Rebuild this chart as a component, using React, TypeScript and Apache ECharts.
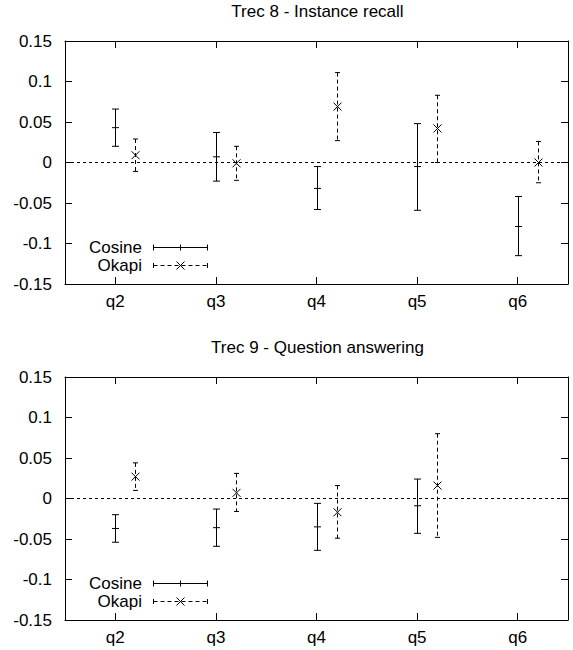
import React, { useEffect, useRef } from "react";
import * as echarts from "echarts";

// ---- data ----
const categories = ["q2", "q3", "q4", "q5", "q6"];
const yMin = -0.15;
const yMax = 0.15;
const yStep = 0.05;

const chartTitles = ["Trec 8 - Instance recall", "Trec 9 - Question answering"];
const seriesNames = ["Cosine", "Okapi"];

// Trec 8 - Instance recall
const trec8CosineLow = [0.02, -0.023, -0.058, -0.059, -0.115];
const trec8CosineMean = [0.043, 0.007, -0.032, -0.005, -0.079];
const trec8CosineHigh = [0.066, 0.037, -0.005, 0.048, -0.042];
const trec8OkapiLow = [-0.011, -0.022, 0.027, 0.0, -0.025];
const trec8OkapiMean = [0.009, -0.001, 0.069, 0.042, 0.0];
const trec8OkapiHigh = [0.029, 0.02, 0.111, 0.083, 0.026];

// Trec 9 - Question answering (no value for q6)
const trec9CosineLow = [-0.054, -0.059, -0.064, -0.043];
const trec9CosineMean = [-0.037, -0.036, -0.035, -0.009];
const trec9CosineHigh = [-0.02, -0.013, -0.006, 0.024];
const trec9OkapiLow = [0.01, -0.016, -0.049, -0.048];
const trec9OkapiMean = [0.027, 0.007, -0.017, 0.016];
const trec9OkapiHigh = [0.044, 0.031, 0.016, 0.08];

const FONT = "'Liberation Sans', Arial, Helvetica, sans-serif";
const FS = 17;
const BLACK = "#000";

function toData(low: number[], mid: number[], high: number[]) {
  return low.map((l, i) => [i, l, mid[i], high[i]]);
}

function seg(x1: number, y1: number, x2: number, y2: number, dash?: number[]) {
  return {
    type: "line",
    shape: { x1, y1, x2, y2 },
    style: { stroke: BLACK, lineWidth: 1, lineDash: dash || null, fill: null },
  };
}

function makeRender(kind: "cosine" | "okapi") {
  return (params: any, api: any) => {
    const cat = api.value(0);
    const lo = api.coord([cat, api.value(1)]);
    const mid = api.coord([cat, api.value(2)]);
    const hi = api.coord([cat, api.value(3)]);
    const band = api.size([1, 0])[0];
    const x = Math.round(lo[0] + (kind === "okapi" ? band * 0.2 : 0)) + 0.5;
    const children: any[] = [];
    if (kind === "cosine") {
      children.push(seg(x, lo[1], x, hi[1]));
      children.push(seg(x - 3.5, lo[1], x + 3.5, lo[1]));
      children.push(seg(x - 3.5, hi[1], x + 3.5, hi[1]));
      children.push(seg(x - 3.5, mid[1], x + 3.5, mid[1]));
    } else {
      children.push(seg(x, hi[1], x, lo[1], [4, 3]));
      children.push(seg(x - 2.5, lo[1], x + 2.5, lo[1]));
      children.push(seg(x - 2.5, hi[1], x + 2.5, hi[1]));
      children.push(seg(x - 4, mid[1] - 4, x + 4, mid[1] + 4));
      children.push(seg(x - 4, mid[1] + 4, x + 4, mid[1] - 4));
    }
    return { type: "group", children };
  };
}

const GRID_LEFT = 65;
const GRID_RIGHT = 5;
const GRID_H = 243;
const gridTops = [41, 377];

function legendElements(bottom: number) {
  const yC = bottom - 36.5;
  const yO = bottom - 18.5;
  const x1 = 153.5;
  const x2 = 207.5;
  const xm = 180.5;
  const textStyle = (t: string) => ({
    text: t,
    font: `${FS}px ${FONT}`,
    fill: BLACK,
    textAlign: "right",
    textVerticalAlign: "middle",
    lineHeight: 16,
  });
  return [
    { type: "text", x: 142, y: yC, style: textStyle(seriesNames[0]) },
    { type: "text", x: 142, y: yO, style: textStyle(seriesNames[1]) },
    { type: "line", shape: { x1, y1: yC, x2, y2: yC }, style: { stroke: BLACK, lineWidth: 1 } },
    { type: "line", shape: { x1, y1: yC - 3, x2: x1, y2: yC + 3 }, style: { stroke: BLACK, lineWidth: 1 } },
    { type: "line", shape: { x1: x2, y1: yC - 3, x2, y2: yC + 3 }, style: { stroke: BLACK, lineWidth: 1 } },
    { type: "line", shape: { x1: xm, y1: yC - 3, x2: xm, y2: yC + 3 }, style: { stroke: BLACK, lineWidth: 1 } },
    { type: "line", shape: { x1, y1: yO, x2, y2: yO }, style: { stroke: BLACK, lineWidth: 1, lineDash: [4, 3] } },
    { type: "line", shape: { x1, y1: yO - 2.5, x2: x1, y2: yO + 2.5 }, style: { stroke: BLACK, lineWidth: 1 } },
    { type: "line", shape: { x1: x2, y1: yO - 2.5, x2, y2: yO + 2.5 }, style: { stroke: BLACK, lineWidth: 1 } },
    { type: "line", shape: { x1: xm - 4, y1: yO - 4, x2: xm + 4, y2: yO + 4 }, style: { stroke: BLACK, lineWidth: 1 } },
    { type: "line", shape: { x1: xm - 4, y1: yO + 4, x2: xm + 4, y2: yO - 4 }, style: { stroke: BLACK, lineWidth: 1 } },
  ];
}

function buildOption() {
  const grid = gridTops.map((top) => ({
    left: GRID_LEFT,
    right: GRID_RIGHT,
    top,
    height: GRID_H,
    containLabel: false,
    outerBoundsMode: "none",
  }));
  const axisLineStyle = { show: true, onZero: false, lineStyle: { color: BLACK, width: 1 } };
  const labelFmt = (v: number) => String(Number(v.toFixed(2)));
  const xAxis: any[] = [];
  const yAxis: any[] = [];
  gridTops.forEach((_, g) => {
    ["bottom", "top"].forEach((pos) => {
      xAxis.push({
        type: "category",
        gridIndex: g,
        position: pos,
        data: categories,
        boundaryGap: true,
        axisLine: axisLineStyle,
        axisTick: { show: true, inside: true, length: 7, alignWithLabel: true, lineStyle: { color: BLACK, width: 1 } },
        axisLabel: { show: pos === "bottom", color: BLACK, fontSize: FS, fontFamily: FONT, margin: 9 },
        splitLine: { show: false },
      });
    });
    ["left", "right"].forEach((pos) => {
      yAxis.push({
        type: "value",
        gridIndex: g,
        position: pos,
        min: yMin,
        max: yMax,
        interval: yStep,
        axisLine: axisLineStyle,
        axisTick: { show: true, inside: true, length: 7, lineStyle: { color: BLACK, width: 1 } },
        axisLabel: { show: pos === "left", color: BLACK, fontSize: FS, fontFamily: FONT, margin: 13, formatter: labelFmt },
        splitLine: { show: false },
      });
    });
  });

  const zeroLine = {
    silent: true,
    symbol: ["none", "none"],
    label: { show: false },
    lineStyle: { color: BLACK, width: 1, type: [3, 3] },
    data: [{ yAxis: 0 }],
  };

  const sets = [
    [toData(trec8CosineLow, trec8CosineMean, trec8CosineHigh), toData(trec8OkapiLow, trec8OkapiMean, trec8OkapiHigh)],
    [toData(trec9CosineLow, trec9CosineMean, trec9CosineHigh), toData(trec9OkapiLow, trec9OkapiMean, trec9OkapiHigh)],
  ];
  const series: any[] = [];
  sets.forEach((pair, g) => {
    series.push({
      type: "custom",
      name: seriesNames[0],
      xAxisIndex: g * 2,
      yAxisIndex: g * 2,
      data: pair[0],
      encode: { x: 0, y: [1, 2, 3] },
      renderItem: makeRender("cosine"),
      markLine: zeroLine,
      silent: true,
    });
    series.push({
      type: "custom",
      name: seriesNames[1],
      xAxisIndex: g * 2,
      yAxisIndex: g * 2,
      data: pair[1],
      encode: { x: 0, y: [1, 2, 3] },
      renderItem: makeRender("okapi"),
      silent: true,
    });
  });

  const plotCenter = GRID_LEFT + (573 - GRID_LEFT - GRID_RIGHT) / 2;
  const graphic: any[] = [];
  gridTops.forEach((top, g) => {
    graphic.push({
      type: "text",
      x: plotCenter + 1,
      y: top - 30,
      style: { text: chartTitles[g], font: `${FS}px ${FONT}`, fill: BLACK, textAlign: "center", textVerticalAlign: "middle" },
    });
    legendElements(top + GRID_H).forEach((e) => graphic.push(e));
  });

  return {
    animation: false,
    backgroundColor: "#fff",
    grid,
    xAxis,
    yAxis,
    series,
    graphic,
  };
}

export default function App() {
  const ref = useRef<HTMLDivElement>(null);
  useEffect(() => {
    if (!ref.current) return;
    const chart = echarts.init(ref.current, undefined, { renderer: "svg" });
    chart.setOption(buildOption() as any);
    return () => chart.dispose();
  }, []);
  return (
    <div
      ref={ref}
      style={{ position: "fixed", left: 0, top: 0, width: 573, height: 650, background: "#fff" }}
    />
  );
}
